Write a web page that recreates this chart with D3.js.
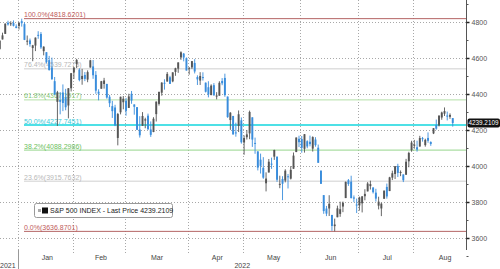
<!DOCTYPE html>
<html>
<head>
<meta charset="utf-8">
<script src="https://cdn.jsdelivr.net/npm/d3@7"></script>
<style>
body { margin: 0; background: #fff; }
svg text { font-family: "Liberation Sans", Arial, sans-serif; }
</style>
</head>
<body>
<div id="chart"></div>
<script>
let width = 500;
let height = 269;
let plotRight = 466;
let plotBottom = 250;

// daily S&P 500 candles, Dec 22 2021 - Aug 19 2022
let dates = [
	"2021-12-22","2021-12-23","2021-12-27","2021-12-28","2021-12-29","2021-12-30","2021-12-31",
	"2022-01-03","2022-01-04","2022-01-05","2022-01-06","2022-01-07","2022-01-10","2022-01-11","2022-01-12","2022-01-13","2022-01-14","2022-01-18","2022-01-19","2022-01-20","2022-01-21","2022-01-24","2022-01-25","2022-01-26","2022-01-27","2022-01-28","2022-01-31",
	"2022-02-01","2022-02-02","2022-02-03","2022-02-04","2022-02-07","2022-02-08","2022-02-09","2022-02-10","2022-02-11","2022-02-14","2022-02-15","2022-02-16","2022-02-17","2022-02-18","2022-02-22","2022-02-23","2022-02-24","2022-02-25","2022-02-28",
	"2022-03-01","2022-03-02","2022-03-03","2022-03-04","2022-03-07","2022-03-08","2022-03-09","2022-03-10","2022-03-11","2022-03-14","2022-03-15","2022-03-16","2022-03-17","2022-03-18","2022-03-21","2022-03-22","2022-03-23","2022-03-24","2022-03-25","2022-03-28","2022-03-29","2022-03-30","2022-03-31",
	"2022-04-01","2022-04-04","2022-04-05","2022-04-06","2022-04-07","2022-04-08","2022-04-11","2022-04-12","2022-04-13","2022-04-14","2022-04-18","2022-04-19","2022-04-20","2022-04-21","2022-04-22","2022-04-25","2022-04-26","2022-04-27","2022-04-28","2022-04-29",
	"2022-05-02","2022-05-03","2022-05-04","2022-05-05","2022-05-06","2022-05-09","2022-05-10","2022-05-11","2022-05-12","2022-05-13","2022-05-16","2022-05-17","2022-05-18","2022-05-19","2022-05-20","2022-05-23","2022-05-24","2022-05-25","2022-05-26","2022-05-27","2022-05-31",
	"2022-06-01","2022-06-02","2022-06-03","2022-06-06","2022-06-07","2022-06-08","2022-06-09","2022-06-10","2022-06-13","2022-06-14","2022-06-15","2022-06-16","2022-06-17","2022-06-21","2022-06-22","2022-06-23","2022-06-24","2022-06-27","2022-06-28","2022-06-29","2022-06-30",
	"2022-07-01","2022-07-05","2022-07-06","2022-07-07","2022-07-08","2022-07-11","2022-07-12","2022-07-13","2022-07-14","2022-07-15","2022-07-18","2022-07-19","2022-07-20","2022-07-21","2022-07-22","2022-07-25","2022-07-26","2022-07-27","2022-07-28","2022-07-29",
	"2022-08-01","2022-08-02","2022-08-03","2022-08-04","2022-08-05","2022-08-08","2022-08-09","2022-08-10","2022-08-11","2022-08-12","2022-08-15","2022-08-16","2022-08-17","2022-08-18","2022-08-19"
];
let opens = [
	4650.4,4703.1,4734.0,4795.5,4788.6,4794.2,4775.2,
	4778.1,4804.5,4788.0,4693.4,4697.7,4655.3,4669.1,4728.6,4733.6,4638.0,4632.2,4588.0,4547.4,4471.4,4356.3,4366.6,4408.4,4380.6,4336.2,4431.8,
	4519.6,4566.4,4535.4,4482.8,4505.8,4480.0,4547.0,4553.2,4506.3,4412.6,4429.3,4455.8,4456.1,4384.6,4332.7,4324.9,4155.8,4298.4,4354.2,
	4363.1,4322.6,4401.3,4342.1,4327.0,4202.7,4223.1,4252.6,4279.5,4202.8,4188.8,4288.1,4345.1,4407.3,4462.4,4469.1,4493.1,4470.0,4522.7,4541.1,4602.9,4624.2,4599.0,
	4540.3,4548.0,4572.5,4494.2,4474.6,4494.2,4462.6,4437.6,4394.3,4449.1,4385.6,4390.6,4472.3,4489.2,4385.8,4255.3,4278.1,4186.5,4222.6,4253.8,
	4130.6,4159.8,4181.2,4270.4,4128.2,4081.3,4035.2,3990.1,3904.0,3963.9,4013.0,4052.0,4052.0,3899.0,3927.8,3919.4,3942.9,3929.6,3984.6,4077.4,4151.1,
	4149.8,4095.4,4137.6,4134.7,4096.5,4147.1,4101.7,3974.4,3838.2,3763.5,3764.0,3728.2,3665.9,3715.3,3733.9,3774.7,3821.8,3920.8,3913.0,3825.1,3786.0,
	3781.0,3792.6,3832.0,3858.9,3888.3,3880.9,3852.0,3779.7,3764.0,3818.0,3883.8,3860.7,3935.3,3955.5,4000.2,3965.7,3953.2,3951.4,4026.1,4087.3,
	4112.4,4104.2,4108.0,4154.9,4115.9,4155.9,4133.1,4181.0,4227.4,4225.0,4269.4,4290.5,4280.4,4273.1,4266.3
];
let highs = [
	4697.7,4740.7,4791.5,4807.0,4804.1,4808.9,4786.8,
	4796.6,4818.6,4797.7,4725.0,4708.0,4673.0,4714.1,4748.8,4744.1,4665.1,4632.2,4611.6,4602.1,4494.5,4417.4,4411.0,4453.2,4428.7,4432.7,4516.9,
	4550.5,4595.3,4542.9,4539.7,4521.9,4531.3,4590.0,4588.9,4527.0,4426.2,4472.8,4489.6,4456.1,4394.6,4362.1,4340.0,4294.7,4385.3,4388.8,
	4378.5,4401.5,4416.8,4342.1,4327.0,4276.9,4299.4,4268.3,4291.0,4247.6,4271.1,4357.9,4412.7,4465.4,4481.8,4522.0,4501.1,4520.6,4546.0,4575.6,4637.3,4627.8,4603.1,
	4548.7,4583.5,4593.5,4503.9,4521.2,4520.4,4464.4,4471.0,4453.9,4460.5,4410.3,4471.0,4488.3,4512.9,4385.8,4299.0,4278.1,4240.7,4308.5,4269.7,
	4169.8,4200.1,4307.7,4270.4,4157.7,4081.3,4068.8,4049.1,3964.8,4038.9,4046.5,4090.7,4052.0,3946.0,3943.4,3981.9,3955.7,3999.3,4075.1,4158.5,4168.3,
	4166.5,4177.5,4142.7,4168.8,4164.9,4160.1,4119.1,3974.4,3838.2,3778.2,3837.6,3728.2,3707.7,3779.7,3801.8,3802.6,3913.7,3927.7,3945.9,3836.5,3819.0,
	3829.8,3832.2,3870.9,3910.6,3918.5,3880.9,3873.4,3829.4,3796.4,3863.6,3902.4,3939.8,3974.1,3999.3,4012.4,3975.3,3953.2,4039.6,4079.0,4140.2,
	4145.0,4140.5,4167.7,4161.3,4151.6,4186.6,4137.3,4211.0,4257.9,4280.5,4301.8,4325.3,4302.2,4292.5,4266.3
];
let lows = [
	4645.5,4703.1,4734.0,4780.0,4778.1,4775.3,4765.8,
	4758.2,4774.3,4699.4,4671.3,4662.7,4582.2,4638.3,4706.7,4650.3,4614.8,4568.7,4530.2,4478.0,4395.3,4222.6,4287.1,4304.8,4309.5,4264.7,4414.0,
	4483.5,4544.3,4470.4,4451.5,4471.5,4465.4,4547.0,4484.3,4401.4,4364.8,4429.3,4429.7,4373.8,4327.2,4267.1,4221.5,4114.7,4286.8,4315.1,
	4279.5,4322.6,4345.6,4285.0,4199.9,4157.9,4223.1,4209.8,4200.5,4161.7,4187.9,4247.2,4335.7,4390.6,4424.3,4469.1,4455.8,4465.2,4501.1,4517.7,4589.7,4581.3,4530.4,
	4507.6,4539.2,4514.2,4450.0,4450.3,4474.6,4408.4,4381.3,4392.7,4390.8,4370.3,4390.6,4448.8,4384.5,4267.6,4200.8,4175.0,4162.9,4188.6,4124.3,
	4062.5,4147.1,4148.9,4106.0,4067.9,3975.5,3958.2,3928.8,3858.9,3963.9,3984.0,4033.9,3911.9,3876.6,3810.3,3909.0,3875.1,3925.0,3984.6,4077.4,4104.9,
	4073.9,4074.4,4098.7,4109.2,4080.2,4107.2,4017.2,3900.2,3734.3,3721.6,3722.3,3639.8,3636.9,3715.3,3717.7,3743.5,3821.8,3889.7,3820.1,3799.0,3738.7,
	3752.1,3742.1,3809.4,3858.9,3869.3,3847.2,3802.4,3758.9,3721.6,3817.2,3818.6,3860.7,3922.0,3927.6,3938.8,3943.5,3910.7,3951.4,3993.0,4079.2,
	4096.0,4079.8,4108.0,4135.4,4107.3,4129.0,4112.1,4177.3,4201.4,4219.8,4256.9,4277.8,4253.1,4262.0,4218.7
];
let closes = [
	4696.6,4725.8,4791.2,4786.4,4793.1,4778.7,4766.2,
	4796.6,4793.5,4700.6,4696.1,4677.0,4670.3,4713.1,4726.4,4659.0,4662.9,4577.1,4532.8,4482.7,4397.9,4410.1,4356.5,4349.9,4326.5,4431.9,4515.6,
	4546.5,4589.4,4477.4,4500.5,4483.9,4521.5,4587.2,4504.1,4418.6,4401.7,4471.1,4475.0,4380.3,4348.9,4304.8,4225.5,4288.7,4384.7,4373.9,
	4306.3,4386.5,4363.5,4328.9,4201.1,4170.7,4277.9,4259.5,4204.3,4173.1,4262.5,4357.9,4411.7,4463.1,4461.2,4511.6,4456.2,4520.2,4543.1,4575.5,4631.6,4602.5,4530.4,
	4545.9,4582.6,4525.1,4481.2,4500.2,4488.3,4412.5,4397.5,4446.6,4392.6,4391.7,4462.2,4459.5,4393.7,4271.8,4296.1,4175.2,4184.0,4287.5,4131.9,
	4155.4,4175.5,4300.2,4147.0,4123.3,3991.2,4001.1,3935.2,3930.1,4023.9,4008.0,4088.9,3923.7,3900.8,3901.4,3973.8,3941.5,3978.7,4057.8,4158.2,4132.2,
	4101.2,4176.8,4108.5,4121.4,4160.7,4115.8,4017.8,3900.9,3749.6,3735.5,3790.0,3666.8,3674.8,3764.8,3759.9,3795.7,3911.7,3900.1,3821.6,3818.8,3785.4,
	3825.3,3831.4,3845.1,3902.6,3899.4,3854.4,3818.8,3801.8,3790.4,3863.2,3830.9,3936.7,3959.9,3999.0,3961.6,3966.8,3921.1,4023.6,4072.4,4130.3,
	4118.6,4091.2,4155.2,4152.0,4145.2,4140.1,4122.5,4210.2,4207.3,4280.2,4297.1,4305.2,4274.0,4283.7,4239.2
];
let lastPrice = 4239.2109;

let fibNames = ["100.0%","76.4%","61.8%","50.0%","38.2%","23.6%","0.0%"];
let fibLevels = [4818.6201, 4539.7273, 4367.1917, 4227.7451, 4088.2986, 3915.7632, 3636.8701];
let fibColors = ["#b46464","#cfcfcf","#b4e0a8","#4ee0e6","#96d68c","#cfcfcf","#b46464"];
let fibText = ["#c05a5a","#b8b8b8","#86c878","#3cc8d8","#6cc060","#b8b8b8","#c05a5a"];

let yTicks = [3600, 3800, 4000, 4200, 4400, 4600, 4800];
let yMinor = [3500, 3700, 3900, 4100, 4300, 4500, 4700, 4900];
let months = ["Jan","Feb","Mar","Apr","May","Jun","Jul","Aug"];
let years = ["2021","2022"];

let svg = d3.select("#chart")
	.append("svg")
	.attr("width", width).attr("height", height);

let parse = d3.timeParse("%Y-%m-%d");
let x = d3.scaleBand().domain(dates).range([-1.2, 453.7]).paddingInner(0.3).paddingOuter(0);
let y = d3.scaleLinear().domain([3600, 4800]).range([238, 22]);
let half = x.step() * x.paddingInner() / 2;

// grid
svg.append("g").selectAll("line").data(yTicks)
	.join("line")
	.attr("x1", 0).attr("x2", plotRight)
	.attr("y1", d => Math.round(y(d)) + 0.5).attr("y2", d => Math.round(y(d)) + 0.5)
	.attr("stroke", "#a8a8a8").attr("stroke-dasharray", "1,2");

let monthStarts = months.map((m, i) => dates.find(d => parse(d).getFullYear() == 2022 && parse(d).getMonth() == i));
let mx = d => Math.round(x(d) - half) + 0.5;

svg.append("g").selectAll("line").data(monthStarts)
	.join("line")
	.attr("x1", mx).attr("x2", mx)
	.attr("y1", 0).attr("y2", plotBottom + 5)
	.attr("stroke", "#a8a8a8").attr("stroke-dasharray", "1,2");

// fibonacci lines
let fib = svg.append("g");
fib.selectAll("line").data(fibLevels)
	.join("line")
	.attr("x1", 24).attr("x2", plotRight)
	.attr("y1", d => y(d)).attr("y2", d => y(d))
	.attr("stroke", (d, i) => fibColors[i])
	.attr("stroke-width", (d, i) => fibNames[i] == "50.0%" ? 2 : 1);

// candles
let candles = svg.append("g").selectAll("g").data(dates)
	.join("g");
let colorOf = i => closes[i] >= opens[i] ? "#555555" : "#3a8ddc";
candles.append("line")
	.attr("x1", d => x(d) + x.bandwidth() / 2).attr("x2", d => x(d) + x.bandwidth() / 2)
	.attr("y1", (d, i) => y(highs[i])).attr("y2", (d, i) => y(lows[i]))
	.attr("stroke", (d, i) => colorOf(i)).attr("stroke-width", 0.9);
candles.append("rect")
	.attr("x", d => x(d)).attr("width", x.bandwidth())
	.attr("y", (d, i) => Math.min(y(opens[i]), y(closes[i])))
	.attr("height", (d, i) => Math.max(1, Math.abs(y(opens[i]) - y(closes[i]))))
	.attr("fill", (d, i) => colorOf(i));

fib.selectAll("text").data(fibLevels)
	.join("text")
	.attr("x", 24).attr("y", d => y(d) - 1.5)
	.attr("font-size", 7)
	.attr("fill", (d, i) => fibText[i])
	.text((d, i) => fibNames[i] + "(" + d.toFixed(4) + ")");

// right axis
svg.append("line")
	.attr("x1", plotRight + 0.5).attr("x2", plotRight + 0.5)
	.attr("y1", 0).attr("y2", plotBottom)
	.attr("stroke", "#555");
let axis = svg.append("g")
	.attr("transform", `translate(${plotRight + 0.5},0)`)
	.call(d3.axisRight(y).tickValues(yTicks).tickSize(3).tickPadding(2).tickFormat(d3.format("d")));
axis.select(".domain").remove();
axis.selectAll("line").attr("stroke", "#222").attr("stroke-width", 1.5);
axis.selectAll("text").attr("font-size", 7).attr("fill", "#555").attr("font-family", "Liberation Sans, Arial");
let minor = svg.append("g")
	.attr("transform", `translate(${plotRight + 0.5},0)`)
	.call(d3.axisRight(y).tickValues(yMinor).tickSize(2).tickFormat(""));
minor.select(".domain").remove();
minor.selectAll("line").attr("stroke", "#555");

// last price tag
let ly = y(lastPrice);
svg.append("rect")
	.attr("x", plotRight + 1.5).attr("y", ly - 4.5)
	.attr("width", width - plotRight - 1.5).attr("height", 9)
	.attr("rx", 2).attr("fill", "#111");
svg.append("text")
	.attr("x", plotRight + 2.5).attr("y", ly + 2.3)
	.attr("font-size", 6.3).attr("fill", "#fff")
	.attr("textLength", 30).attr("lengthAdjust", "spacingAndGlyphs")
	.text(lastPrice.toFixed(4));

// x axis labels
svg.append("g").selectAll("text").data(monthStarts)
	.join("text")
	.attr("x", (d, i) => {
		let days = d3.timeDays(new Date(2022, i, 1), new Date(2022, i + 1, 1)).filter(t => t.getDay() > 0 && t.getDay() < 6);
		return mx(d) + days.length * x.step() / 2;
	})
	.attr("y", 260)
	.attr("text-anchor", "middle")
	.attr("font-size", 7).attr("fill", "#444")
	.text((d, i) => months[i]);

let yearX = mx(monthStarts[0]);
svg.append("line")
	.attr("x1", yearX).attr("x2", yearX)
	.attr("y1", plotBottom).attr("y2", height)
	.attr("stroke", "#999");
svg.append("text")
	.attr("x", 0).attr("y", 268)
	.attr("font-size", 7).attr("fill", "#444")
	.text(years[0]);
svg.append("text")
	.attr("x", (yearX + plotRight) / 2).attr("y", 268)
	.attr("text-anchor", "middle")
	.attr("font-size", 7).attr("fill", "#444")
	.text(years[1]);

// legend
let legend = svg.append("g").attr("transform", "translate(34,203)");
legend.append("rect")
	.attr("x", 0.5).attr("y", 0.5).attr("width", 138).attr("height", 14)
	.attr("rx", 2).attr("fill", "#fff").attr("stroke", "#999");
legend.append("rect").attr("x", 4).attr("y", 6).attr("width", 3).attr("height", 3).attr("fill", "#aaa");
legend.append("rect").attr("x", 8).attr("y", 4.5).attr("width", 6).attr("height", 6).attr("fill", "#111");
legend.append("text")
	.attr("x", 16).attr("y", 10)
	.attr("font-size", 7).attr("fill", "#222")
	.text("S&P 500 INDEX - Last Price " + lastPrice.toFixed(4));
</script>
</body>
</html>
